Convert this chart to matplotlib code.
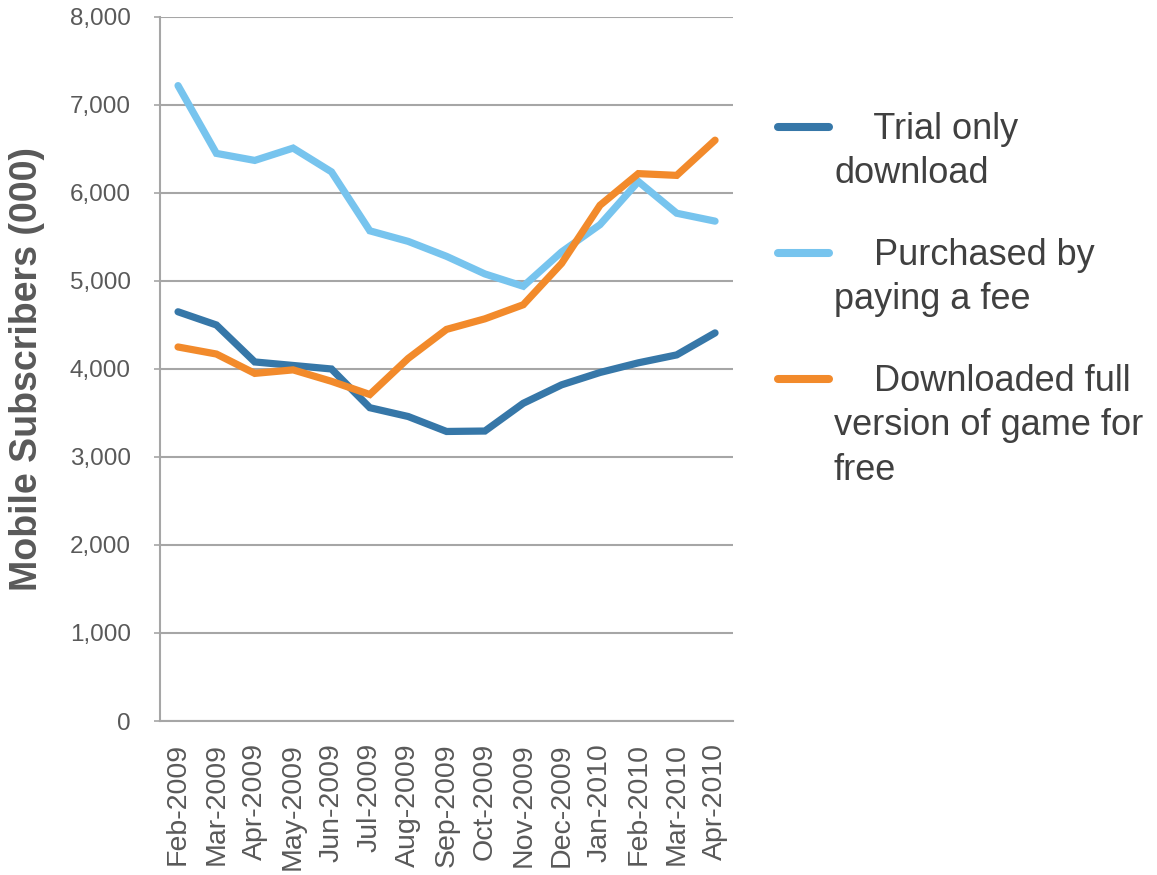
import matplotlib.pyplot as plt
from matplotlib.lines import Line2D
from matplotlib.ticker import FuncFormatter

plt.rcParams['font.family'] = ['Liberation Sans', 'DejaVu Sans']

months = ["Feb-2009", "Mar-2009", "Apr-2009", "May-2009", "Jun-2009",
          "Jul-2009", "Aug-2009", "Sep-2009", "Oct-2009", "Nov-2009",
          "Dec-2009", "Jan-2010", "Feb-2010", "Mar-2010", "Apr-2010"]

trial_only = [4650, 4500, 4080, 4040, 4000, 3560, 3460, 3290, 3295, 3610,
              3820, 3960, 4070, 4160, 4410]
purchased = [7220, 6450, 6370, 6510, 6240, 5570, 5450, 5280, 5080, 4940,
             5330, 5640, 6130, 5770, 5680]
free_full = [4250, 4170, 3950, 3990, 3860, 3710, 4120, 4450, 4570, 4730,
             5200, 5860, 6220, 6200, 6600]

labels = ["    Trial only\ndownload",
          "    Purchased by\npaying a fee",
          "    Downloaded full\nversion of game for\nfree"]
colors = ["#3677a8", "#77c4ee", "#f28a2b"]
series = [trial_only, purchased, free_full]

fig = plt.figure(figsize=(11.57, 8.75), dpi=100)
ax = fig.add_axes([0.1383, 0.176, 0.4953, 0.8046])

x = range(len(months))
for vals, c in zip(series, colors):
    ax.plot(x, vals, color=c, lw=5.2, solid_capstyle='round',
            solid_joinstyle='miter', zorder=3)

ax.set_xlim(-0.47, len(months) - 0.53)
ax.set_ylim(0, 8000)
ax.set_yticks(range(0, 8001, 1000))
ax.yaxis.set_major_formatter(FuncFormatter(lambda v, p: f"{int(v):,}"))
ax.grid(axis='y', color='#a6a6a6', lw=1.5, zorder=1)
ax.set_xticks(list(x))
ax.set_xticklabels(months, rotation=90, va='top', ha='center')

for s in ['top', 'right']:
    ax.spines[s].set_visible(False)
for s in ['left', 'bottom']:
    ax.spines[s].set_color('#a6a6a6')
    ax.spines[s].set_linewidth(1.5)

ax.tick_params(axis='y', length=4, width=1.2, color='#a6a6a6', pad=17,
               labelsize=17.5, labelcolor='#595959')
ax.tick_params(axis='x', length=0, pad=16, labelsize=20.5, labelcolor='#595959')

ax.set_ylabel("Mobile Subscribers (000)", fontsize=27, fontweight='bold',
              color='#595959')
ax.yaxis.set_label_coords(-0.2, 0.5)

# legend entries drawn by hand so each handle sits on the first text line
W, H = 1157, 875
handle_y = [127, 253, 379]
for lab, c, hy in zip(labels, colors, handle_y):
    fig.add_artist(Line2D([778 / W, 829 / W], [1 - hy / H, 1 - hy / H],
                          color=c, lw=5.8, solid_capstyle='round'))
    fig.text(834 / W, 1 - (hy - 15) / H, lab, fontsize=26, color='#404040',
             va='top', ha='left', linespacing=1.35)

fig.savefig("out.png", dpi=100)
